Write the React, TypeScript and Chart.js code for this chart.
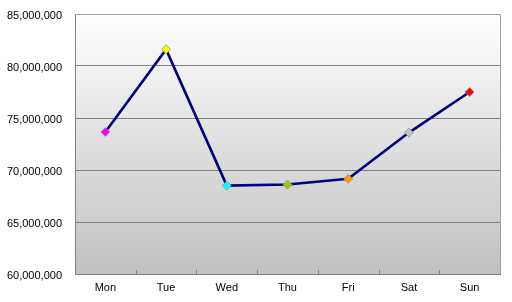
import React, { useEffect, useRef } from "react";
import { Chart, registerables } from "chart.js";

Chart.register(...registerables);

const days = ["Mon", "Tue", "Wed", "Thu", "Fri", "Sat", "Sun"];
const values = [73650000, 81600000, 68500000, 68600000, 69150000, 73600000, 77500000];
const markerColors = ["#ff00ff", "#ffff00", "#00ffff", "#99cc00", "#ff9900", "#c0c0c8", "#ff0000"];
const yMin = 60000000;
const yMax = 85000000;
const yStep = 5000000;

const framePlugin = {
  id: "frame",
  beforeDraw(chart: any) {
    const { ctx, chartArea: a } = chart;
    ctx.save();
    const g = ctx.createLinearGradient(0, a.top, 0, a.bottom);
    g.addColorStop(0, "#ffffff");
    g.addColorStop(1, "#c0c0c0");
    ctx.fillStyle = g;
    ctx.fillRect(a.left, a.top, a.right - a.left, a.bottom - a.top);
    ctx.restore();
  },
  beforeDatasetsDraw(chart: any) {
    const { ctx, chartArea: a } = chart;
    const xs = chart.scales.x;
    ctx.save();
    ctx.strokeStyle = "#a0a0a0";
    ctx.lineWidth = 1;
    ctx.beginPath();
    ctx.moveTo(a.left, a.top + 0.5);
    ctx.lineTo(a.right + 0.5, a.top + 0.5);
    ctx.lineTo(a.right + 0.5, a.bottom);
    ctx.stroke();
    ctx.strokeStyle = "#808080";
    ctx.beginPath();
    for (let i = 1; i < days.length; i++) {
      const x = Math.round(xs.getPixelForValue(i - 0.5)) + 0.5;
      ctx.moveTo(x, a.bottom);
      ctx.lineTo(x, a.bottom - 4);
    }
    ctx.stroke();
    ctx.restore();
  },
};

export default function App() {
  const ref = useRef<HTMLCanvasElement>(null);
  useEffect(() => {
    const chart = new Chart(ref.current!, {
      type: "line",
      data: {
        labels: days,
        datasets: [
          {
            data: values,
            borderColor: "#000080",
            borderWidth: 2.6,
            tension: 0,
            pointStyle: "rectRot",
            pointRadius: 4.5,
            pointBackgroundColor: markerColors,
            pointBorderColor: "#909090",
            pointBorderWidth: 0.8,
          },
        ],
      },
      options: {
        animation: false,
        responsive: false,
        plugins: { legend: { display: false }, tooltip: { enabled: false } },
        layout: { padding: { left: 0, top: 14, right: 12, bottom: 0 } },
        scales: {
          x: {
            offset: true,
            grid: { display: false, drawTicks: false },
            border: { display: true, color: "#808080", width: 1 },
            ticks: { color: "#000", font: { family: "Liberation Sans", size: 11 }, padding: 7 },
            afterFit(s: any) {
              s.height = 28;
              s.paddingLeft = 0;
              s.paddingRight = 0;
            },
          },
          y: {
            min: yMin,
            max: yMax,
            grid: {
              drawTicks: false,
              color: (c: any) => (c.tick && c.tick.value === yMax ? "#a0a0a0" : "#808080"),
            },
            border: { display: true, color: "#808080", width: 1 },
            ticks: {
              stepSize: yStep,
              color: "#000",
              padding: 13,
              labelOffset: 1.5,
              font: { family: "Liberation Sans", size: 11 },
              callback: (v: any) => Number(v).toLocaleString("en-US"),
            },
            afterFit(s: any) {
              s.width = 75;
              s.paddingTop = 0;
              s.paddingBottom = 0;
            },
          },
        },
      },
      plugins: [framePlugin],
    });
    return () => chart.destroy();
  }, []);
  return (
    <div style={{ position: "fixed", left: 0, top: 0, width: 512, height: 302, background: "#fff" }}>
      <canvas ref={ref} width={512} height={302} />
    </div>
  );
}
